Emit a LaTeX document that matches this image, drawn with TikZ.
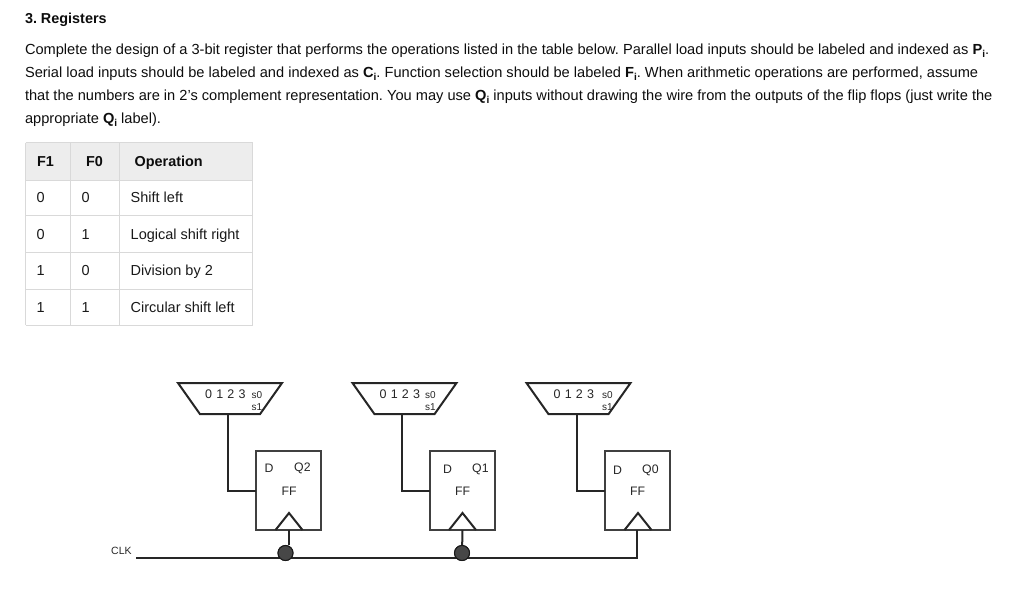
\documentclass[tikz,border=0pt]{standalone}
\usepackage{fontspec}
\setmainfont{Liberation Sans}
\usetikzlibrary{shapes.geometric}
\newcommand{\fsz}[1]{\fontsize{#1}{#1}\selectfont}
\newcommand{\idx}[1]{\textbf{#1\raisebox{-2.5pt}{\fsz{10}i}}}
\tikzset{
  x=1pt,y=-1pt,
  wire/.style={draw=black!85,line width=2pt},
  body/.style={anchor=base west,inner sep=0,outer sep=0,font=\fsz{14.62},text=black!95},
  cellhead/.style={anchor=base west,inner sep=0,font=\fsz{14.4}\bfseries,text=black!95},
  cell/.style={anchor=base west,inner sep=0,font=\fsz{14.5},text=black!90},
  grid/.style={draw=black!15,line width=0.9pt},
  muxbox/.style={trapezium,draw=black!85,line width=2pt,trapezium stretches=true,shape border rotate=180,
    trapezium left angle=70,trapezium right angle=70,minimum width=104pt,minimum height=31pt,inner sep=1pt,outer sep=0},
  ffbox/.style={rectangle,draw=black!75,line width=1.8pt,minimum width=65pt,minimum height=79pt,inner sep=0,outer sep=0},
  junction/.style={circle,fill=black!72,draw=black!90,line width=1pt,minimum size=15pt,inner sep=0},
  lab/.style={anchor=base west,inner sep=0,font=\fsz{12.3},text=black!85},
  smalllab/.style={anchor=base west,inner sep=0,font=\fsz{10},text=black!85},
}
\begin{document}
\frenchspacing
\begin{tikzpicture}
\useasboundingbox (0,0) rectangle (1024,591);
% heading and paragraph
\node[body,font=\fsz{14.4}\bfseries] (title) at (25,24) {3. Registers};
\node[body] (l1) at (25,55) {Complete the design of a 3-bit register that performs the operations listed in the table below. Parallel load inputs should be labeled and indexed as \idx{P}.};
\node[body] (l2) at (25,78) {Serial load inputs should be labeled and indexed as \idx{C}. Function selection should be labeled \idx{F}. When arithmetic operations are performed, assume};
\node[body] (l3) at (25,101) {that the numbers are in 2's complement representation. You may use \idx{Q} inputs without drawing the wire from the outputs of the flip flops (just write the};
\node[body] (l4) at (25,124) {appropriate \idx{Q} label).};
% table
\fill[black!7] (25.5,142.5) rectangle (252.5,180);
\foreach \yy in {142.5,180,215,252,289,325} \draw[grid] (25.5,\yy) -- (252.5,\yy);
\foreach \xx in {25.5,70.5,119.5,252.5} \draw[grid] (\xx,142.5) -- (\xx,325);
\node[cellhead] (hf1) at (37,166) {F1};
\node[cellhead] (hf0) at (86,166) {F0};
\node[cellhead] (hop) at (134.5,166) {Operation};
\foreach \nm/\yy/\fa/\fb/\op in {a/202.5/0/0/Shift left,b/239/0/1/Logical shift right,c/275.5/1/0/Division by 2,d/312/1/1/Circular shift left}{
  \node[cell] (r\nm a) at (36.5,\yy) {\fa};
  \node[cell] (r\nm b) at (81.5,\yy) {\fb};
  \node[cell] (r\nm c) at (130.5,\yy) {\op};
}
% muxes
\node[muxbox] (mux2) at (230,398.5) {};
\node[muxbox] (mux1) at (404.5,398.5) {};
\node[muxbox] (mux0) at (578.5,398.5) {};
\foreach \m/\xx in {2/205,1/379.5,0/553.5}{
  \node[lab,font=\fsz{12.5}] (digits\m) at (\xx,398) {0\,\,1\,\,2\,\,3};
}
\foreach \m/\xx in {2/251.5,1/425,0/602}{
  \node[smalllab] (sa\m) at (\xx,398) {s0};
  \node[smalllab] (sb\m) at (\xx,410) {s1};
}
% flip flops
\node[ffbox] (ff2) at (288.5,490.5) {};
\node[ffbox] (ff1) at (462.5,490.5) {};
\node[ffbox] (ff0) at (637.5,490.5) {};
\node[lab] (d2) at (264.5,472) {D};
\node[lab] (q2) at (294,471) {Q2};
\node[lab] (f2) at (281.5,495) {FF};
\node[lab] (d1) at (443,473) {D};
\node[lab] (q1) at (472,472) {Q1};
\node[lab] (f1) at (455,495) {FF};
\node[lab] (d0) at (613,474) {D};
\node[lab] (q0) at (642,473) {Q0};
\node[lab] (f0) at (630,495) {FF};
% mux outputs
\coordinate (o2) at (228,414);
\coordinate (o1) at (402,414);
\coordinate (o0) at (577,414);
\draw[wire] (o2) |- (ff2.west);
\draw[wire] (o1) |- (ff1.west);
\draw[wire] (o0) |- (ff0.west);
% clock triangles
\foreach \n/\xx in {2/289,1/462.5,0/638}{
  \coordinate (tl\n) at (\xx-13.5,530);
  \coordinate (ta\n) at (\xx,513);
  \coordinate (tr\n) at (\xx+13.5,530);
  \draw[wire,line join=miter] (tl\n) -- (ta\n) -- (tr\n);
}
% clock bus
\node[junction] (j2) at (285.5,553) {};
\node[junction] (j1) at (462,553) {};
\coordinate (c2) at (288.5,530);
\coordinate (c1) at (462.5,530);
\coordinate (c0) at (637,530);
\coordinate (bs) at (136,558);
\coordinate (be) at (637,558);
\draw[wire] (bs) -- (j2 |- bs);
\draw[wire] (j2 |- bs) -- (j1 |- bs);
\draw[wire] (j1 |- bs) -- (be) -- (c0);
\draw[wire] (c2) -- (c2 |- j2.north);
\draw[wire] (c1) -- (j1);
\node[junction] at (j2) {};
\node[junction] at (j1) {};
\node[lab,font=\fsz{10.5}] (clk) at (111,554) {CLK};
\end{tikzpicture}
\end{document}
